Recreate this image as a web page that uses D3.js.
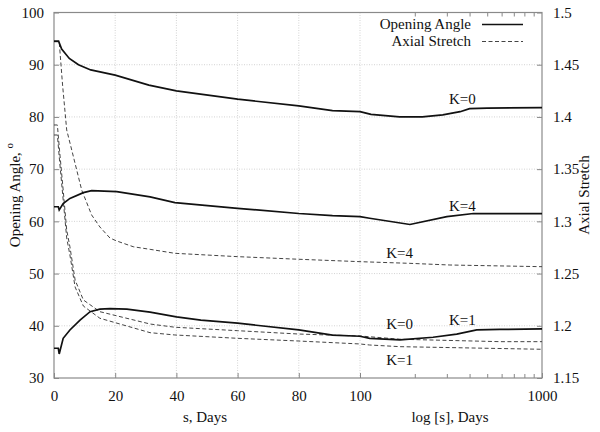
<!DOCTYPE html>
<html><head><meta charset="utf-8">
<script src="https://cdn.jsdelivr.net/npm/d3@7"></script>
<style>
body{margin:0;background:#fff;}
svg, svg text, svg g{font-family:"Liberation Serif","Times New Roman","DejaVu Serif",serif !important;}
svg text{fill:#111;}
</style></head>
<body><svg id="c" width="600" height="432"></svg>
<script>
// ---- data ----
const angleK0 = [[0,94.5],[1.5,94.5],[2.5,93.0],[5,91.2],[8,90.0],[12,89.0],[20,88.0],[31,86.1],[40,85.0],[60,83.4],[80,82.1],[91,81.2],[100,81.0],[115,80.5],[165,80.0],[220,80.0],[285,80.4],[355,81.0],[400,81.6],[500,81.7],[1000,81.8]];
const angleK4 = [[0,62.8],[1.4,62.8],[1.7,62.2],[3,63.4],[5.2,64.4],[9.6,65.5],[12.3,65.9],[20.5,65.7],[31.4,64.7],[39.5,63.6],[60,62.5],[80,61.5],[91,61.1],[100,60.9],[113,60.6],[188,59.4],[300,60.9],[420,61.5],[1000,61.5]];
const angleK1 = [[0,35.7],[1.4,35.7],[1.7,34.6],[3,37.6],[5.2,39.2],[8.5,41.1],[11.8,42.7],[15,43.2],[18.3,43.3],[23.8,43.2],[31.4,42.6],[40,41.7],[48,41.1],[60,40.5],[80,39.2],[91,38.2],[100,38.0],[113,37.6],[166,37.3],[252,37.8],[340,38.4],[438,39.2],[587,39.3],[1000,39.4]];
const stretchK4 = [[0,1.472],[1.7,1.472],[2.8,1.4306],[4.15,1.3875],[5.8,1.3683],[9.05,1.3300],[12.3,1.3061],[15,1.2946],[18.3,1.2840],[20.5,1.2812],[25.9,1.2757],[31.4,1.2732],[39.5,1.2694],[60,1.2662],[80,1.2637],[100,1.2614],[188,1.2598],[312,1.2582],[1000,1.2566]];
const stretchK0 = [[0,1.3923],[1.1,1.3923],[1.8,1.3683],[3,1.3300],[4.15,1.2917],[5.2,1.2757],[6.9,1.2438],[9.6,1.2247],[15,1.2135],[31.4,1.2017],[39.5,1.1986],[60,1.1953],[80,1.1921],[100,1.1902],[113,1.1895],[166,1.1871],[587,1.1848],[1000,1.1848]];
const stretchK1 = [[0,1.3827],[1.1,1.3827],[1.8,1.3588],[3,1.3205],[4.15,1.2841],[5.2,1.2678],[6.9,1.2371],[9.6,1.2189],[15,1.2072],[31.4,1.1934],[39.5,1.1912],[60,1.1880],[80,1.1854],[100,1.1826],[113,1.1816],[166,1.1800],[1000,1.1775]];
const linTicks = [0,20,40,60,80,100];
const logMinor = [200,300,400,500,600,700,800,900];
const leftTicks = [30,40,50,60,70,80,90,100];
const rightTicks = [1.15,1.2,1.25,1.3,1.35,1.4,1.45,1.5];
const curveLabels = [
  {t:"K=0", s:365, v:82.4, ax:"L"},
  {t:"K=4", s:365, v:62.0, ax:"L"},
  {t:"K=1", s:365, v:40.2, ax:"L"},
  {t:"K=4", s:165, v:1.2645, ax:"R"},
  {t:"K=0", s:165, v:1.1970, ax:"R"},
  {t:"K=1", s:165, v:1.1628, ax:"R"}
];

// ---- layout ----
const L=54, R=542, T=12.5, B=378, XM=360;
const svg=d3.select("#c");
const xLin=d3.scaleLinear().domain([0,100]).range([L,XM]);
const xLog=d3.scaleLog().domain([100,1000]).range([XM,R]);
const X = s => s<=100 ? xLin(s) : xLog(s);
const yL=d3.scaleLinear().domain([30,100]).range([B,T]);
const yR=d3.scaleLinear().domain([1.15,1.5]).range([B,T]);
const FF="Liberation Serif, Times New Roman, DejaVu Serif, serif";

// grid
const g=svg.append("g");
leftTicks.slice(1,-1).forEach(v=>{
  g.append("line").attr("x1",L).attr("x2",R).attr("y1",yL(v)).attr("y2",yL(v))
   .attr("stroke","#c8c8c8").attr("stroke-width",0.8).attr("stroke-dasharray","1,1.5");
});
linTicks.slice(1).forEach(v=>{
  g.append("line").attr("x1",xLin(v)).attr("x2",xLin(v)).attr("y1",T).attr("y2",B)
   .attr("stroke","#c8c8c8").attr("stroke-width",0.8).attr("stroke-dasharray","1,1.5");
});

// axes
const fs=15;
const axB1=svg.append("g").attr("transform",`translate(0,${B})`)
  .call(d3.axisBottom(xLin).tickValues(linTicks).tickSize(-5).tickPadding(12));
const axB2=svg.append("g").attr("transform",`translate(0,${B})`)
  .call(d3.axisBottom(xLog).tickValues([1000]).tickFormat(d3.format("d")).tickSize(-5).tickPadding(12));
const axB3=svg.append("g").attr("transform",`translate(0,${B})`)
  .call(d3.axisBottom(xLog).tickValues(logMinor).tickFormat("").tickSize(-4));
const axT3=svg.append("g").attr("transform",`translate(0,${T})`)
  .call(d3.axisTop(xLog).tickValues(logMinor).tickFormat("").tickSize(-4));
const axLft=svg.append("g").attr("transform",`translate(${L},0)`)
  .call(d3.axisLeft(yL).tickValues(leftTicks).tickSize(-5).tickPadding(10));
const axRgt=svg.append("g").attr("transform",`translate(${R},0)`)
  .call(d3.axisRight(yR).tickValues(rightTicks).tickFormat(d=>String(+d.toFixed(2))).tickSize(-5).tickPadding(11));
[axB1,axB2,axB3,axT3,axLft,axRgt].forEach(a=>{
  a.attr("font-family",FF).attr("font-size",fs);
  a.select(".domain").remove();
  a.selectAll("line").attr("stroke","#888");
  a.selectAll("text").attr("font-size",fs).style("font-family",FF).attr("fill","#111");
});
// frame
svg.append("rect").attr("x",L).attr("y",T).attr("width",R-L).attr("height",B-T)
  .attr("fill","none").attr("stroke","#8a8a8a").attr("stroke-width",1.2);

// curves
const lineL=d3.line().x(d=>X(d[0])).y(d=>yL(d[1]));
const lineR=d3.line().x(d=>X(d[0])).y(d=>yR(d[1]));
[stretchK4,stretchK0,stretchK1].forEach(d=>{
  svg.append("path").attr("d",lineR(d)).attr("fill","none").attr("stroke","#444")
    .attr("stroke-width",1).attr("stroke-dasharray","4,2.5");
});
[angleK0,angleK4,angleK1].forEach(d=>{
  svg.append("path").attr("d",lineL(d)).attr("fill","none").attr("stroke","#111")
    .attr("stroke-width",1.7);
});

// curve labels
curveLabels.forEach(c=>{
  const y = c.ax==="L" ? yL(c.v) : yR(c.v);
  svg.append("text").attr("x",X(c.s)).attr("y",y).attr("text-anchor","middle")
    .attr("font-size",15).style("font-family",FF).text(c.t);
});

// legend
const leg=[{t:"Opening Angle",dash:null,w:1.7,c:"#111",y:29},{t:"Axial Stretch",dash:"4,2.5",w:1,c:"#444",y:46}];
leg.forEach(l=>{
  svg.append("text").attr("x",471).attr("y",l.y).attr("text-anchor","end").attr("font-size",15).style("font-family",FF).text(l.t);
  svg.append("line").attr("x1",482).attr("x2",523).attr("y1",l.y-4.5).attr("y2",l.y-4.5)
    .attr("stroke",l.c).attr("stroke-width",l.w).attr("stroke-dasharray",l.dash);
});

// axis titles
svg.append("text").attr("x",205).attr("y",422).attr("text-anchor","middle").attr("font-size",15).style("font-family",FF).text("s, Days");
svg.append("text").attr("x",450).attr("y",422).attr("text-anchor","middle").attr("font-size",15).style("font-family",FF).text("log [s], Days");
const yt=svg.append("text").attr("transform","translate(20,195) rotate(-90)").attr("text-anchor","middle").attr("font-size",15).style("font-family",FF);
yt.append("tspan").text("Opening Angle, ");
yt.append("tspan").attr("dy",-7).attr("font-size",11).text("o");
svg.append("text").attr("transform","translate(589,195) rotate(-90)").attr("text-anchor","middle").attr("font-size",15).style("font-family",FF).text("Axial Stretch");
</script></body></html>
